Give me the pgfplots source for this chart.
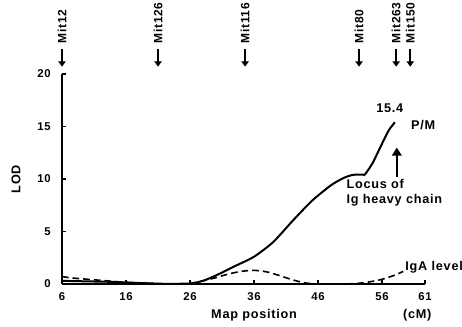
\documentclass[border=0pt]{standalone}
\usepackage{fontspec}
\setmainfont{Liberation Sans}[LetterSpace=6]
\usepackage{pgfplots}
\pgfplotsset{compat=1.18}
\usetikzlibrary{arrows.meta}
\begin{document}
\begin{tikzpicture}[font=\fontsize{9.5}{11}\selectfont\bfseries]
\path[use as bounding box] (-46.5pt,-31.5pt) rectangle (300pt,213pt);
\begin{axis}[
  at={(0,0)}, anchor=south west,
  scale only axis, width=272.25pt, height=157.5pt,
  xmin=6, xmax=62.7, ymin=0, ymax=20,
  axis lines=left, axis line style={-, line width=1.2pt},
  xtick={6,16,26,36,46,56,62.7},
  xticklabels={6,16,26,36,46,56,61},
  ytick={0,5,10,15,20},
  tick align=inside, major tick length=3pt,
  tick style={line width=1pt, black},
  ticklabel style={font=\fontsize{8.5}{10}\selectfont\bfseries},
  xticklabel style={yshift=-3pt},
  yticklabel style={xshift=-5pt},
  /pgf/number format/assume math mode=true,
  clip=false,
]
% P/M LOD (solid)
\addplot[black, line width=1.5pt, smooth, tension=0.4] coordinates {
 (6,0.3) (10,0.25) (14,0.2) (18,0.1) (22,0.02) (26,0.05) (28,0.3)
 (30,0.8) (33,1.7) (36,2.6) (39,4.0) (42,6.0) (45,7.9) (48,9.4)
 (50,10.1) (51.5,10.4) (53.3,10.4)};
\addplot[black, line width=1.5pt, smooth, tension=0.4] coordinates {
 (53.3,10.4) (54.5,11.5) (55.7,13.0) (57,14.6) (58,15.4)};
% IgA level (dashed)
\addplot[black, line width=1.2pt, dash pattern=on 5pt off 3pt, smooth, tension=0.5] coordinates {
 (6,0.7) (8,0.55) (10,0.45) (12,0.35) (14,0.25) (16,0.15) (18,0.1) (20,0.05)
 (22,0) (24,0) (26,0.05) (28,0.3) (30,0.6) (32,0.95) (34,1.2) (36,1.3)
 (38,1.15) (40,0.8) (42,0.4) (44,0.1) (46,0) (48,0) (50,0) (52,0.05)
 (54,0.2) (56,0.45) (58,0.85) (59.3,1.2)};
% dotted baseline
\addplot[black, line width=0.8pt, dotted] coordinates {(6,0.08) (56,0.08)};
% marker arrows
\foreach \m/\lab in {6/Mit12, 21/Mit126, 34.6/Mit116, 52.4/Mit80, 58.2/Mit263, 60.4/Mit150} {
  \edef\temp{\noexpand\draw[line width=1.3pt, -{Triangle[length=4pt,width=5.5pt]}] (axis cs:\m,22.4) -- (axis cs:\m,20.7);
  \noexpand\node[rotate=90, anchor=west, inner sep=0pt] at (axis cs:\m,22.9) {\noexpand\fontsize{9}{10}\noexpand\selectfont\noexpand\bfseries \lab};}
  \temp
}
\draw[line width=1.7pt, -{Triangle[length=6pt,width=7pt]}] (axis cs:58.3,10.2) -- (axis cs:58.3,13.0);
\node at (axis cs:57.2,16.7) {15.4};
\node[anchor=west] at (axis cs:59.8,15.1) {P/M};
\node[anchor=north west, align=left, inner sep=0pt] at (axis cs:50.4,10.0) {Locus of\\Ig heavy chain};
\node[anchor=west, inner sep=0pt] at (axis cs:59.6,1.6) {IgA level};
\node at (axis cs:36,-3.0) {Map position};
\node at (axis cs:61.5,-3.0) {(cM)};
\node[rotate=90] at (axis cs:-1.2,10) {LOD};
\end{axis}
\end{tikzpicture}
\end{document}
